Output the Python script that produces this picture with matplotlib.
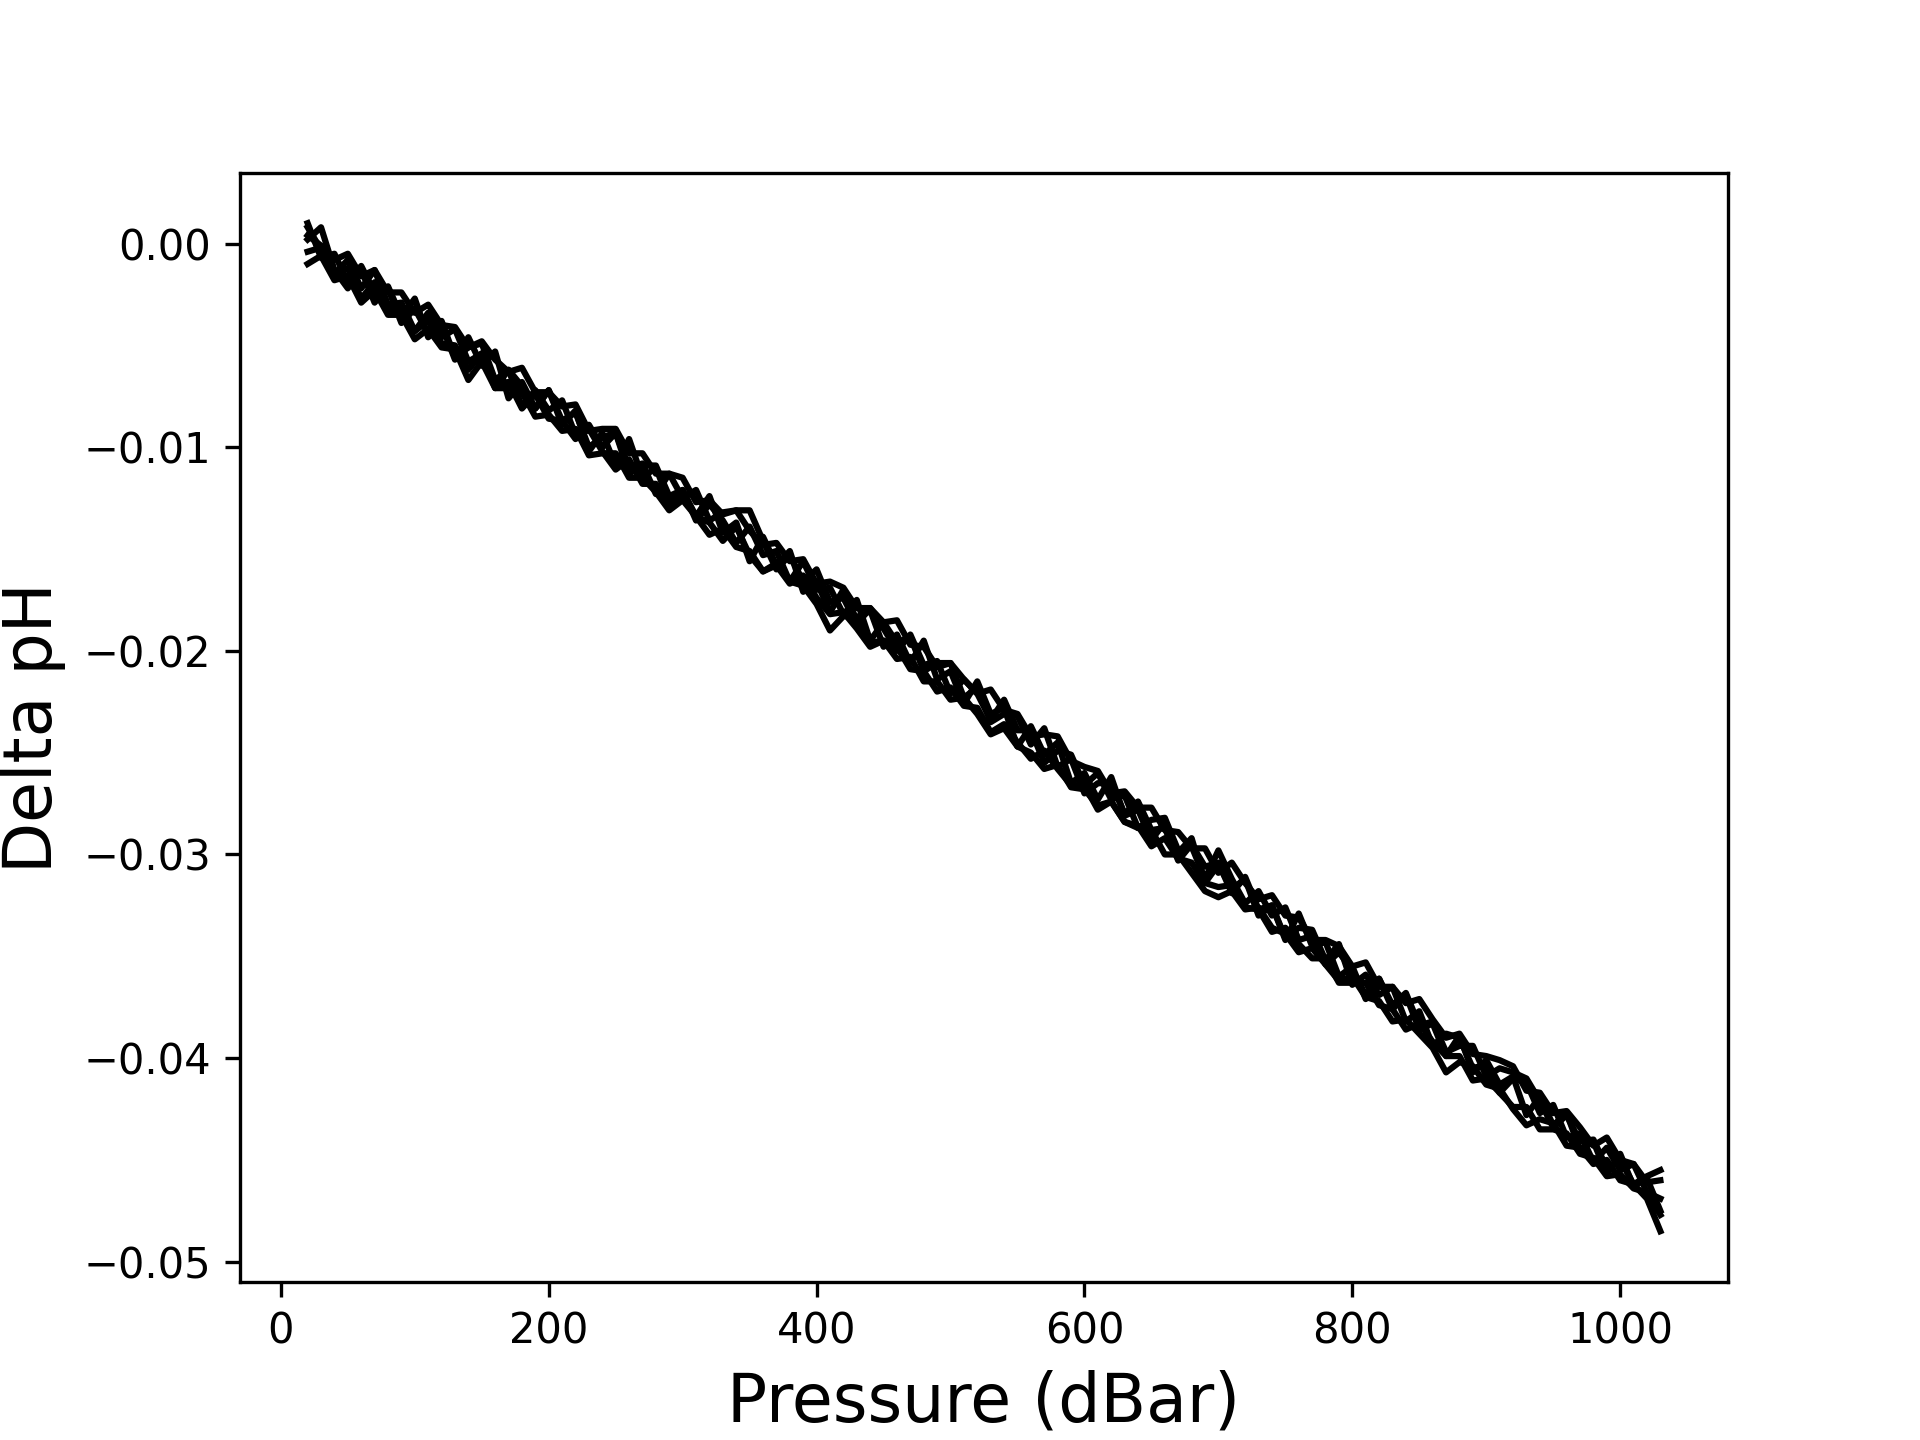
import numpy as np
import matplotlib
matplotlib.use("Agg")
import matplotlib.pyplot as plt

#===========================
# DATA  (delta pH in units of 1e-4)
#===========================
pressure = [20, 30, 40, 50, 60, 70, 80, 90, 100, 110,
            120, 130, 140, 150, 160, 170, 180, 190, 200, 210,
            220, 230, 240, 250, 260, 270, 280, 290, 300, 310,
            320, 330, 340, 350, 360, 370, 380, 390, 400, 410,
            420, 430, 440, 450, 460, 470, 480, 490, 500, 510,
            520, 530, 540, 550, 560, 570, 580, 590, 600, 610,
            620, 630, 640, 650, 660, 670, 680, 690, 700, 710,
            720, 730, 740, 750, 760, 770, 780, 790, 800, 810,
            820, 830, 840, 850, 860, 870, 880, 890, 900, 910,
            920, 930, 940, 950, 960, 970, 980, 990, 1000, 1010,
            1020, 1030]

dph_1 = [8, -3, -15, -8, -22, -13, -30, -29, -43, -34,
         -46, -42, -58, -54, -71, -62, -70, -81, -72, -87,
         -83, -100, -95, -93, -110, -108, -123, -113, -125, -121,
         -136, -132, -131, -131, -146, -160, -153, -166, -160, -176,
         -174, -187, -179, -189, -200, -192, -207, -205, -221, -214,
         -221, -234, -224, -239, -239, -255, -249, -251, -266, -260,
         -273, -271, -287, -283, -282, -298, -296, -312, -298, -312,
         -324, -318, -330, -326, -342, -340, -354, -348, -357, -369,
         -361, -374, -368, -384, -382, -397, -394, -394, -409, -405,
         -407, -410, -421, -434, -428, -441, -440, -454, -450, -462,
         -458, -455]

dph_2 = [-10, -6, -18, -16, -29, -23, -35, -35, -47, -42,
         -51, -52, -67, -58, -71, -71, -73, -85, -84, -92,
         -91, -104, -103, -103, -115, -115, -122, -131, -126, -134,
         -143, -140, -149, -151, -161, -157, -166, -168, -177, -190,
         -183, -183, -196, -195, -198, -209, -210, -220, -218, -227,
         -228, -240, -236, -245, -253, -249, -258, -266, -266, -278,
         -274, -284, -287, -288, -300, -300, -309, -318, -321, -318,
         -327, -326, -336, -339, -348, -346, -354, -362, -360, -370,
         -372, -382, -381, -388, -395, -407, -402, -404, -413, -415,
         -425, -433, -430, -432, -443, -444, -452, -450, -460, -462,
         -469, -485]

dph_3 = [2, 8, -13, -22, -13, -29, -21, -36, -27, -46,
         -40, -57, -46, -60, -53, -76, -68, -81, -72, -89,
         -82, -102, -93, -109, -96, -115, -110, -127, -121, -134,
         -124, -142, -137, -156, -144, -158, -151, -171, -166, -181,
         -170, -185, -180, -198, -192, -206, -195, -214, -210, -226,
         -215, -231, -228, -247, -237, -251, -245, -265, -260, -273,
         -262, -281, -278, -293, -284, -299, -292, -314, -305, -317,
         -312, -330, -325, -342, -329, -345, -343, -360, -355, -371,
         -361, -376, -369, -386, -383, -399, -389, -407, -401, -413,
         -409, -428, -419, -433, -427, -445, -441, -457, -447, -463,
         -459, -475]

dph_4 = [4, -1, -8, -5, -16, -13, -24, -24, -34, -30,
         -40, -41, -51, -48, -57, -63, -61, -73, -73, -80,
         -79, -92, -91, -91, -103, -103, -113, -113, -115, -127,
         -126, -133, -131, -141, -148, -147, -156, -155, -167, -166,
         -169, -179, -179, -186, -185, -197, -198, -208, -206, -214,
         -221, -219, -229, -231, -242, -241, -242, -254, -257, -259,
         -270, -269, -277, -277, -288, -289, -297, -297, -309, -304,
         -314, -322, -320, -330, -331, -342, -342, -345, -355, -353,
         -365, -365, -373, -371, -381, -390, -388, -398, -399, -401,
         -404, -416, -417, -427, -426, -434, -443, -439, -450, -452,
         -461, -460]

dph_5 = [-4, -2, -16, -12, -27, -19, -33, -31, -43, -38,
         -49, -50, -62, -54, -69, -68, -81, -74, -86, -87,
         -96, -91, -102, -111, -106, -118, -118, -129, -123, -134,
         -137, -146, -139, -153, -161, -158, -167, -163, -174, -182,
         -181, -189, -198, -195, -204, -203, -215, -215, -224, -223,
         -231, -241, -238, -247, -250, -258, -256, -267, -268, -276,
         -274, -284, -286, -296, -292, -302, -304, -314, -316, -315,
         -326, -327, -338, -336, -344, -351, -351, -363, -363, -363,
         -374, -376, -386, -383, -392, -399, -399, -411, -410, -417,
         -424, -424, -435, -435, -437, -447, -449, -458, -457, -464,
         -466, -477]

dph_6 = [10, -7, -5, -19, -11, -24, -22, -39, -32, -44,
         -38, -56, -51, -49, -67, -62, -80, -72, -82, -77,
         -94, -89, -100, -93, -113, -109, -109, -124, -121, -136,
         -128, -136, -147, -139, -153, -151, -166, -156, -170, -169,
         -182, -175, -195, -186, -196, -193, -210, -206, -206, -223,
         -218, -235, -231, -232, -246, -238, -257, -253, -270, -265,
         -265, -280, -274, -288, -287, -303, -295, -306, -304, -319,
         -311, -327, -325, -341, -336, -337, -352, -344, -364, -359,
         -369, -365, -382, -377, -394, -388, -390, -405, -403, -417,
         -410, -412, -427, -423, -439, -437, -451, -444, -455, -452,
         -466, -469]

profiles = [dph_1, dph_2, dph_3, dph_4, dph_5, dph_6]

#===========================
# PLOT
#===========================
fig = plt.figure(figsize=(6.4, 4.8), dpi=300)
ax = fig.add_subplot(111)

P = np.array(pressure)
for d in profiles:
    ax.plot(P, np.array(d) * 1e-4, color='k', linewidth=1.5)

ax.set_xlabel("Pressure (dBar)", fontsize=16)
ax.set_ylabel("Delta pH", fontsize=16)

fig.savefig("out.png", dpi=300)
